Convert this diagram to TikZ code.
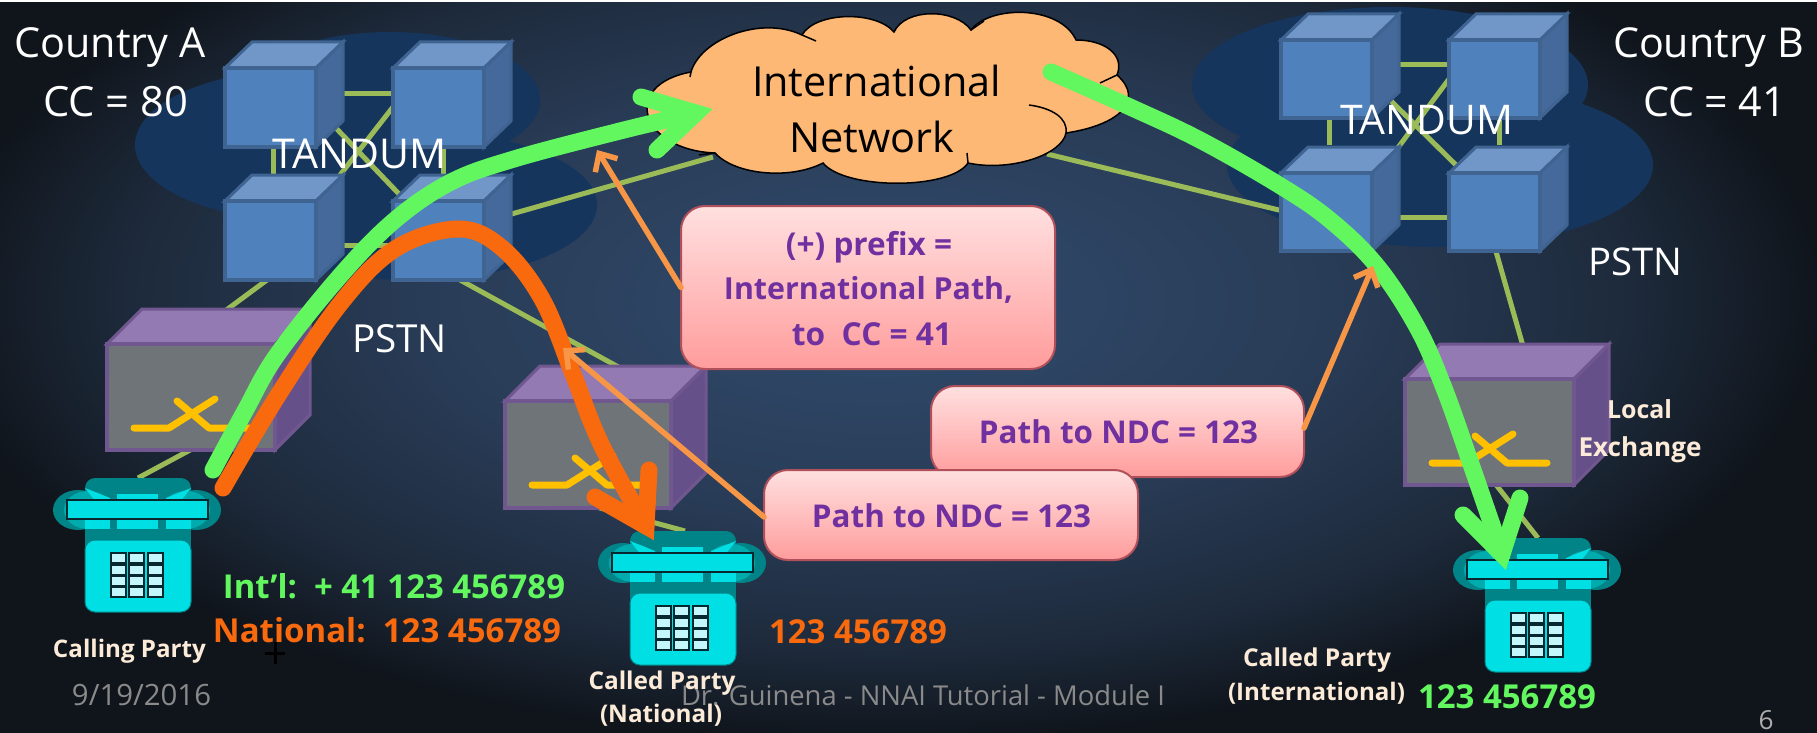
\documentclass[tikz,border=0pt]{standalone}
\usepackage{fontspec}
\setmainfont{Open Sans}
\usetikzlibrary{calc,arrows.meta}
\definecolor{bginner}{HTML}{304B6C}
\definecolor{bgmid}{HTML}{293C57}
\definecolor{bgdim}{HTML}{1D2A3B}
\definecolor{bgouter}{HTML}{10151C}
\pgfdeclareradialshading{slidebg}{\pgfpointorigin}{color(0bp)=(bginner); color(12bp)=(bgmid); color(20bp)=(bgdim); color(25bp)=(bgouter); color(50bp)=(bgouter)}
\definecolor{blob}{HTML}{16355C}
\definecolor{cloudfill}{HTML}{FDB876}
\definecolor{linkgreen}{HTML}{9BBB59}
\definecolor{cubefill}{HTML}{4F81BD}
\definecolor{cubeedge}{HTML}{3F6491}
\definecolor{cubetop}{HTML}{7097C8}
\definecolor{cubeside}{HTML}{44699A}
\definecolor{exfill}{HTML}{6F7478}
\definecolor{exedge}{HTML}{70578F}
\definecolor{extop}{HTML}{937AB3}
\definecolor{exside}{HTML}{66508A}
\definecolor{xyellow}{HTML}{FFC000}
\definecolor{phcyan}{HTML}{00DFE3}
\definecolor{phdark}{HTML}{008488}
\definecolor{phmid}{HTML}{00ABAE}
\definecolor{phkey}{HTML}{C4F7FC}
\definecolor{phline}{HTML}{06282E}
\definecolor{pathgreen}{HTML}{62F75F}
\definecolor{natorange}{HTML}{F9690E}
\definecolor{callout}{HTML}{F79646}
\definecolor{boxedge}{HTML}{B0505A}
\definecolor{boxtop}{HTML}{FFE0E0}
\definecolor{boxbot}{HTML}{FF9C9C}
\definecolor{boxtext}{HTML}{7030A0}
\definecolor{cream}{HTML}{FCEBD8}
\definecolor{footer}{HTML}{8A8A8A}
\pgfdeclarelayer{back}
\pgfsetlayers{back,main}
\tikzset{
  link/.style={draw=linkgreen,line width=5pt},
  gfat/.style={draw=pathgreen,line width=17pt,line cap=round,line join=miter},
  ofat/.style={draw=natorange,line width=17pt,line cap=round,line join=miter},
  callarrow/.style={draw=callout,line width=5.5pt,line cap=round,-{Straight Barb[length=14pt,width=26pt]}},
  cubefront/.style={draw=cubeedge,fill=cubefill,line width=3.5pt,inner sep=0pt,outer sep=0pt,anchor=north west,minimum width=91pt},
  exfront/.style={draw=exedge,fill=exfill,line width=4.5pt,inner sep=0pt,outer sep=0pt,anchor=north west},
  pinkbox/.style={draw=boxedge,line width=2pt,rounded corners=24pt,top color=boxtop,bottom color=boxbot,inner sep=0pt,outer sep=0pt,anchor=north west},
  anchorpt/.style={inner sep=0pt,outer sep=0pt,minimum size=0pt},
  plain/.style={text=white},
  strong/.style={text=cream,font=\bfseries},
  greentxt/.style={text=pathgreen,font=\bfseries},
  orangetxt/.style={text=natorange,font=\bfseries},
  purpletxt/.style={text=boxtext,font=\bfseries},
  blacktxt/.style={text=black},
  foot/.style={text=footer},
  cloudline/.style={draw=black,line width=1.5pt},
}
\newcommand\lbl[6]{\node[#5,anchor=base,inner sep=0pt] (#1) at (#2,#3) {\resizebox{#4pt}{!}{#6}};}
\newcommand\lnk[4]{\draw[link] ($(#1.north west)+(#2)$) -- ($(#3.north west)+(#4)$);}
\newcommand\tcube[4]{%
  \filldraw[fill=cubetop,draw=cubeedge,line width=3pt] (#2,#3) -- ++(27,-26) -- ++(91,0) -- ++(-27,26) -- cycle;
  \filldraw[fill=cubeside,draw=cubeedge,line width=3pt] (#2+91,#3) -- ++(27,-26) -- ++(0,#4) -- ++(-27,26) -- cycle;
  \node[cubefront,minimum height=#4pt] (#1) at (#2,#3) {};
}
\newcommand\exch[5]{%
  \filldraw[fill=extop,draw=exedge,line width=3pt] (#2,#3) -- ++(35,-35) -- ++(#4,0) -- ++(-35,35) -- cycle;
  \filldraw[fill=exside,draw=exedge,line width=3pt] (#2+#4,#3) -- ++(35,-35) -- ++(0,#5) -- ++(-35,35) -- cycle;
  \node[exfront,minimum width=#4pt,minimum height=#5pt] (#1) at (#2,#3) {};
  \begin{scope}[shift={(#2,#3)}]
    \draw[xyellow,line width=7pt,line cap=round,line join=round] (27,84) -- (62,84) -- (108,55);
    \draw[xyellow,line width=7pt,line cap=round,line join=round] (70,57) -- (102,84) -- (142,84);
  \end{scope}
}
\newcommand\phone[3]{%
  \node[anchorpt] (#1) at (#2,#3) {};
  \begin{scope}[shift={(#2,#3)}]
    \fill[phdark,rounded corners=10pt] (-53,24) -- (-53,0) -- (53,0) -- (53,24) -- cycle;
    \fill[phdark] (-60,32) ellipse (25 and 20);
    \fill[phdark] (58,32) ellipse (25 and 20);
    \fill[phmid] (-50,32) ellipse (24 and 19);
    \fill[phmid] (48,32) ellipse (24 and 19);
    \fill[phcyan] (-53,10) -- (-28,20) -- (-28,24) -- (-42,24) -- cycle;
    \fill[phcyan] (53,10) -- (28,20) -- (28,24) -- (42,24) -- cycle;
    \fill[phcyan] (-21,16) rectangle (20,22);
    \fill[phdark] (-53,41) rectangle (53,68);
    \fill[phcyan] (-53,42) rectangle (-28,51);
    \fill[phcyan] (-21,42) rectangle (20,51);
    \fill[phcyan] (28,42) rectangle (53,51);
    \filldraw[fill=phcyan,draw=phline,line width=1.5pt] (-71,22) rectangle (70,41);
    \filldraw[fill=phcyan,draw=phdark,line width=1pt,rounded corners=10pt] (-53,62) rectangle (53,134);
    \foreach \cx in {-27,-9,10} \foreach \cy in {75,87,98,109} {
      \filldraw[draw=phline,fill=phkey,line width=1.5pt] (\cx,\cy) rectangle ++(15,10);
    }
  \end{scope}
}
\begin{document}
\begin{tikzpicture}[x=1pt,y=-1pt]
\useasboundingbox (0,0) rectangle (1817,733);
\begin{pgfonlayer}{back}
\shade[shading=slidebg] (-60,-140) rectangle (1820,740);
\fill[white] (0,0) rectangle (1817,2);
\fill[blob] (300,145) ellipse (165 and 75);
\fill[blob] (390,100) ellipse (150 and 68);
\fill[blob] (410,205) ellipse (187 and 75);
\fill[blob] (1390,85) ellipse (198 and 78);
\fill[blob] (1440,165) ellipse (213 and 82);
\end{pgfonlayer}
% international cloud
\filldraw[cloudline,fill=cloudfill] (691,72)
  .. controls (700,40) and (760,15) .. (802,35)
  .. controls (815,12) and (875,10) .. (894,32)
  .. controls (905,8) and (955,8) .. (971,30)
  .. controls (990,5) and (1060,5) .. (1076,40)
  .. controls (1105,40) and (1125,55) .. (1117,75)
  .. controls (1145,100) and (1120,125) .. (1066,133)
  .. controls (1062,155) and (1010,172) .. (968,163)
  .. controls (950,190) and (845,190) .. (823,163)
  .. controls (790,180) and (735,175) .. (715,153)
  .. controls (640,150) and (620,85) .. (691,72) -- cycle;
\node[anchorpt,anchor=north west,minimum width=490pt,minimum height=170pt] (cloud) at (640,14) {};
\draw[cloudline] (1029,105) .. controls (1052,108) and (1068,118) .. (1066,133);
\draw[cloudline] (1117,75) -- (1100,83);
\draw[cloudline] (802,35) -- (816,41);
\draw[cloudline] (971,30) -- (984,21);
\draw[cloudline] (968,163) -- (967,153);
\draw[cloudline] (715,153) -- (699,155);
\draw[cloudline] (691,72) -- (690,77);
% cubes
\tcube{ca1}{225}{68}{79}
\tcube{ca2}{393}{68}{79}
\tcube{ca3}{225}{201}{79}
\tcube{ca4}{393}{201}{79}
\tcube{cb1}{1281}{40}{78}
\tcube{cb2}{1449}{40}{78}
\tcube{cb3}{1281}{173}{78}
\tcube{cb4}{1449}{173}{78}
% exchanges
\exch{exa}{107}{344}{168}{106}
\exch{exm}{505}{401}{166}{107}
\exch{exb}{1405}{379}{169}{106}
% phones
\phone{pha}{138}{478}
\phone{phm}{683}{531}
\phone{phb}{1538}{538}
\begin{pgfonlayer}{back}
\lnk{ca1}{118,26}{ca2}{0,26}
\lnk{ca3}{118,44}{ca4}{0,44}
\lnk{ca1}{109,58}{ca4}{6,-7}
\lnk{ca2}{0,39}{ca3}{115,-26}
\lnk{ca1}{48,79}{ca3}{48,-26}
\lnk{ca2}{50,79}{ca4}{50,-26}
\lnk{ca3}{46,76}{exa}{118,-33}
\lnk{exa}{85,105}{pha}{0,0}
\lnk{ca4}{58,74}{exm}{117,-32}
\lnk{exm}{84,104}{phm}{2,0}
\lnk{ca4}{115,14}{cloud}{73,143}
\lnk{cloud}{407,140}{cb3}{2,38}
\lnk{cb4}{46,75}{exb}{118,-33}
\lnk{exb}{88,102}{phb}{0,0}
\lnk{cb1}{118,25}{cb2}{0,25}
\lnk{cb3}{118,44}{cb4}{0,44}
\lnk{cb1}{108,59}{cb4}{7,-8}
\lnk{cb2}{0,39}{cb3}{116,-24}
\lnk{cb1}{48,77}{cb3}{48,-28}
\lnk{cb2}{50,77}{cb4}{50,-28}
\end{pgfonlayer}
% labels under arrows
\lbl{tanda}{360}{168}{174}{plain}{TANDUM}
\lbl{tandb}{1426.5}{135}{173}{plain}{TANDUM}
\lbl{intl}{876.5}{97}{249}{blacktxt}{International}
\lbl{netw}{871.5}{153}{165}{blacktxt}{Network}
% fat arrows
\draw[ofat] plot[smooth,tension=.6] coordinates {(223,488)(277,397)(340,304)(395,249)(458,229)(502,248)(542,299)(573,374)(601,444)(646,526)};
\draw[ofat] (595,497) -- (646,526) -- (649,470);
\draw[gfat] plot[smooth,tension=.6] coordinates {(213,470)(245,411)(277,355)(340,276)(395,220)(451,182)(514,159)(620,131)(696,113)};
\draw[gfat] (641,97) -- (696,113) -- (657,150);
\draw[gfat] plot[smooth,tension=.6] coordinates {(1051,72)(1130,107)(1200,140)(1279,185)(1330,220)(1377,266)(1417,327)(1444,388)(1472,467)(1502,554)};
\draw[gfat] (1463,515) -- (1502,554) -- (1520,498);
% pink boxes
\node[pinkbox,minimum width=374pt,minimum height=163pt] (box1) at (681,206) {};
\node[pinkbox,minimum width=373pt,minimum height=91pt] (box2) at (931,386) {};
\node[pinkbox,minimum width=374pt,minimum height=90pt] (box3) at (764,470) {};
% callout arrows
\coordinate (tipa) at (597,150);
\coordinate (tipb) at (563,348);
\coordinate (tipc) at (1373,266);
\draw[callarrow] (box1.west) -- (tipa);
\draw[callarrow] ($(box3.north west)+(0,47)$) -- (tipb);
\draw[callarrow] ($(box2.north east)+(0,42)$) -- (tipc);
% box texts
\lbl{t1a}{869}{255}{166}{purpletxt}{(+) prefix =}
\lbl{t1b}{868.5}{299}{289}{purpletxt}{International Path,}
\lbl{t1c}{872}{345}{160}{purpletxt}{to\ \ CC = 41}
\lbl{t2}{1118.5}{443}{279}{purpletxt}{Path to NDC = 123}
\lbl{t3}{951.5}{527}{279}{purpletxt}{Path to NDC = 123}
% other texts
\lbl{ca}{110}{58}{191}{plain}{Country A}
\lbl{cca}{115.5}{117}{145}{plain}{CC = 80}
\lbl{psa}{399.5}{352}{95}{plain}{PSTN}
\lbl{cb}{1708.5}{58}{191}{plain}{Country B}
\lbl{ccb}{1714.5}{117}{143}{plain}{CC = 41}
\lbl{psb}{1635}{275}{94}{plain}{PSTN}
\lbl{numi}{394}{598}{342}{greentxt}{Int’l:\ \ + 41 123 456789}
\lbl{numn}{387}{642}{348}{orangetxt}{National:\ \ 123 456789}
\lbl{calling}{129.5}{657}{153}{strong}{Calling Party}
\lbl{date}{141.5}{705}{139}{foot}{9/19/2016}
\lbl{mod}{923}{705}{484}{foot}{Dr. Guinena - NNAI Tutorial - Module I}
\lbl{cpn}{662}{689}{147}{strong}{Called Party}
\lbl{cpn2}{661}{722}{122}{strong}{(National)}
\lbl{nummid}{858}{643}{178}{orangetxt}{123 456789}
\lbl{loc}{1639.5}{418}{65}{strong}{Local}
\lbl{exc}{1640}{456}{123}{strong}{Exchange}
\lbl{cpi}{1317}{666}{148}{strong}{Called Party}
\lbl{cpi2}{1316.5}{700}{177}{strong}{(International)}
\lbl{numb}{1507}{708}{178}{greentxt}{123 456789}
\lbl{pg}{1766}{729}{15}{plain,text=footer!70!white}{6}
% mouse cursor
\node[anchorpt] (cursor) at (275,653) {};
\draw[black,line width=3pt] ($(cursor)+(-10,0)$) -- ($(cursor)+(10,0)$);
\draw[black,line width=3pt] ($(cursor)+(0,-11)$) -- ($(cursor)+(0,11)$);
\end{tikzpicture}
\end{document}
